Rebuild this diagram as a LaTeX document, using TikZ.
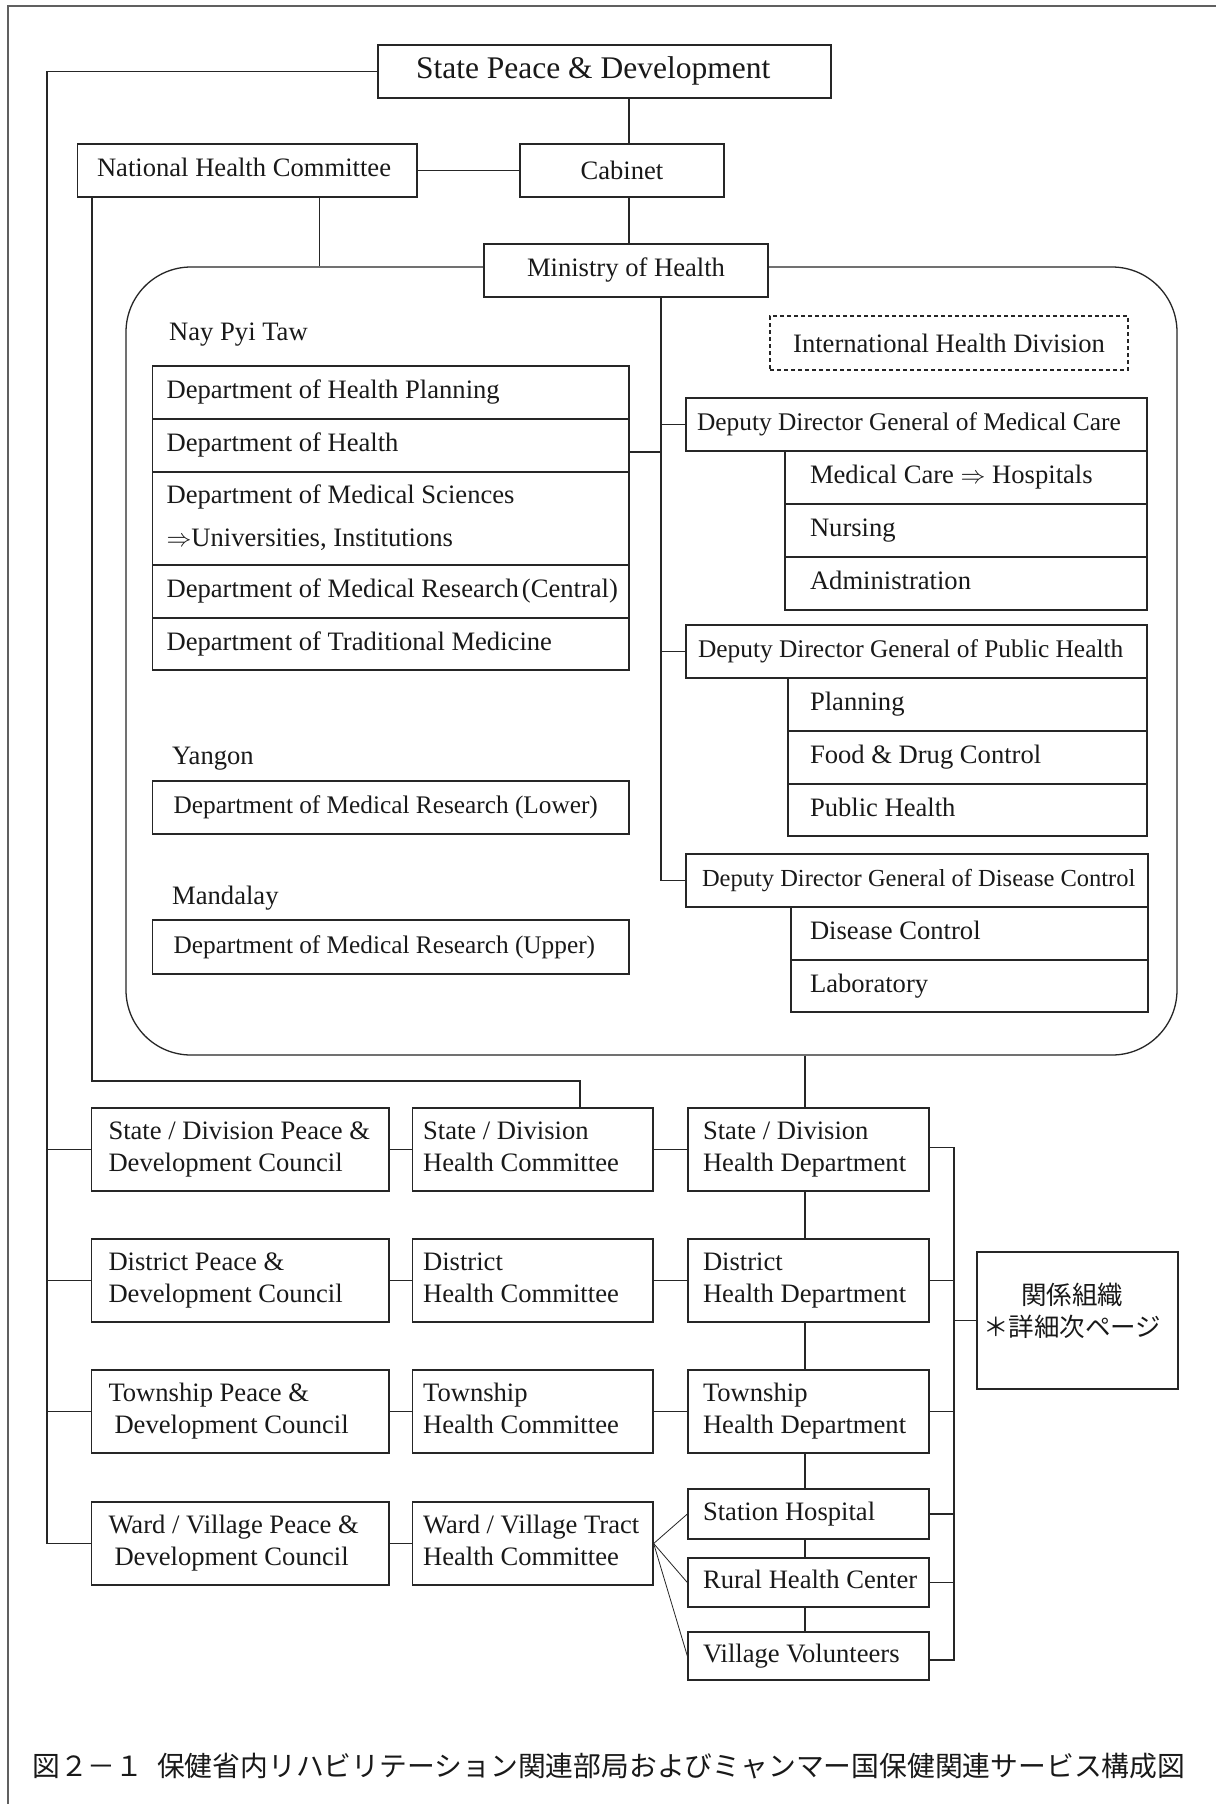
\documentclass[tikz,border=0pt]{standalone}
\usepackage{fontspec}
\setmainfont{Liberation Serif}
\newfontfamily\cjk{Noto Sans CJK JP}
\usetikzlibrary{calc}
\newcommand\lbx[3]{\makebox[#1pt][l]{\hspace*{#2pt}\begin{tabular}{@{}l@{}}#3\end{tabular}}}
\begin{document}
\begin{tikzpicture}[x=1pt,y=-1pt,
  every node/.style={font=\fontsize{26.6}{32}\selectfont, text=black!90},
  bx/.style 2 args={draw=black!85, line width=1.3pt, fill=white, inner sep=0pt, minimum width=#1pt, minimum height=#2pt},
  ln/.style={draw=black!85, line width=1.1pt},
  lbl/.style={anchor=west, inner sep=0pt}]
\useasboundingbox (0,0) rectangle (1216,1804);
\fill[white] (0,0) rectangle (1216,1804);
% page frame
\draw[gray!75!black, line width=2pt] (8,1804) -- (8,5.7) -- (1216,5.7);

% ministry frame
\node[draw=black!85, line width=1.3pt, rounded corners=65pt, minimum width=1051pt, minimum height=788pt, inner sep=0pt] (frm) at (651.5,661) {};

% top
\node[bx={453}{53}, font=\fontsize{31.5}{36}\selectfont] (sp) at (604.5,71.5) {\lbx{453}{38}{State Peace \& Development}};
\node[bx={339.5}{53}] (nhc) at (247.25,170.5) {\lbx{339.5}{19.5}{National Health Committee}};
\node[bx={204}{53}] (cab) at (622,170.5) {Cabinet};
\node[bx={284}{53}] (moh) at (626,270.5) {Ministry of Health};

% Nay Pyi Taw
\node[lbl] (lnpt) at (169,335) {Nay Pyi Taw};
\node[bx={476.4}{53}] (dhp) at (390.8,392.5) {\lbx{476.4}{14}{Department of Health Planning}};
\node[bx={476.4}{53}] (dh) at (390.8,445.5) {\lbx{476.4}{14}{Department of Health}};
\node[bx={476.4}{93}] (dms) at (390.8,518.5) {\lbx{476.4}{14}{Department of Medical Sciences\\[11pt]$\Rightarrow$Universities, Institutions}};
\node[bx={476.4}{53}] (dmr) at (390.8,591.5) {\lbx{476.4}{14}{Department of Medical Research\kern3pt(Central)}};
\node[bx={476.4}{52}] (dtm) at (390.8,644) {\lbx{476.4}{14}{Department of Traditional Medicine}};

\node[lbl] (lygn) at (172,759) {Yangon};
\node[bx={476.4}{53}, font=\fontsize{25.3}{32}\selectfont] (ygn) at (390.8,807.5) {\lbx{476.4}{21}{Department of Medical Research (Lower)}};
\node[lbl] (lmdl) at (172,898) {Mandalay};
\node[bx={476.4}{54}, font=\fontsize{25.3}{32}\selectfont] (mdl) at (390.8,947) {\lbx{476.4}{21}{Department of Medical Research (Upper)}};

% right side
\node[bx={358}{54}, dashed, dash pattern=on 4pt off 3pt] (ihd) at (949,343) {International Health Division};

\node[bx={461}{53}, font=\fontsize{25.4}{32}\selectfont] (ddg1) at (916.5,424.5) {\lbx{461}{11}{Deputy Director General of Medical Care}};
\node[bx={362}{53}] (mc1) at (966,477.5) {\lbx{362}{25}{Medical Care $\Rightarrow$ Hospitals}};
\node[bx={362}{53}] (mc2) at (966,530.5) {\lbx{362}{25}{Nursing}};
\node[bx={362}{53}] (mc3) at (966,583.5) {\lbx{362}{25}{Administration}};

\node[bx={461}{53}, font=\fontsize{25.4}{32}\selectfont] (ddg2) at (916.5,651.5) {\lbx{461}{12}{Deputy Director General of Public Health}};
\node[bx={359}{53}] (ph1) at (967.5,704.5) {\lbx{359}{22}{Planning}};
\node[bx={359}{53}] (ph2) at (967.5,757.5) {\lbx{359}{22}{Food \& Drug Control}};
\node[bx={359}{52}] (ph3) at (967.5,810) {\lbx{359}{22}{Public Health}};

\node[bx={462}{53}, font=\fontsize{24.5}{32}\selectfont] (ddg3) at (917,880.5) {\lbx{462}{16}{Deputy Director General of Disease Control}};
\node[bx={357}{53}] (dc1) at (969.5,933.5) {\lbx{357}{19}{Disease Control}};
\node[bx={357}{52}] (dc2) at (969.5,986) {\lbx{357}{19}{Laboratory}};

% bottom rows
\node[bx={297.5}{83}] (p1) at (240.25,1149.5) {\lbx{297.5}{17}{State / Division Peace \&\\Development Council}};
\node[bx={240.4}{83}] (h1) at (532.8,1149.5) {\lbx{240.4}{10.5}{State / Division\\Health Committee}};
\node[bx={241}{83}] (d1) at (808.5,1149.5) {\lbx{241}{15}{State / Division\\Health Department}};

\node[bx={297.5}{83}] (p2) at (240.25,1280.5) {\lbx{297.5}{17}{District Peace \&\\Development Council}};
\node[bx={240.4}{83}] (h2) at (532.8,1280.5) {\lbx{240.4}{10.5}{District\\Health Committee}};
\node[bx={241}{83}] (d2) at (808.5,1280.5) {\lbx{241}{15}{District\\Health Department}};

\node[bx={297.5}{83}] (p3) at (240.25,1411.5) {\lbx{297.5}{17}{Township Peace \&\\\hspace*{6pt}Development Council}};
\node[bx={240.4}{83}] (h3) at (532.8,1411.5) {\lbx{240.4}{10.5}{Township\\Health Committee}};
\node[bx={241}{83}] (d3) at (808.5,1411.5) {\lbx{241}{15}{Township\\Health Department}};

\node[bx={297.5}{83}] (p4) at (240.25,1543.5) {\lbx{297.5}{17}{Ward / Village Peace \&\\\hspace*{6pt}Development Council}};
\node[bx={240.4}{83}] (h4) at (532.8,1543.5) {\lbx{240.4}{10.5}{Ward / Village Tract\\Health Committee}};
\node[bx={241}{50}] (sh) at (808.5,1514) {\lbx{241}{15}{Station Hospital}};
\node[bx={241}{49}] (rhc) at (808.5,1582.5) {\lbx{241}{15}{Rural Health Center}};
\node[bx={241}{48}] (vv) at (808.5,1656) {\lbx{241}{15}{Village Volunteers}};

\node[bx={201}{137}] (rel) at (1077.5,1320.5) {};
\node[align=center, inner sep=0pt, font=\cjk\fontsize{25.5}{32}\selectfont] (reltx) at (1072,1311) {関係組織\\＊詳細次ページ};

% caption
\node[lbl, font=\cjk\fontsize{27.8}{32}\selectfont] (cap) at (32,1766) {図２－１\hspace{13.8pt}保健省内リハビリテーション関連部局およびミャンマー国保健関連サービス構成図};

% coordinates for connector columns
\coordinate (lx) at (47,0);
\coordinate (cx) at (629,0);
\coordinate (j1) at (92,1081);
\coordinate (j2) at (580,1081);
\coordinate (nx) at (319.5,0);
\coordinate (sx) at (661,0);
\coordinate (vx) at (805,0);
\coordinate (brk) at (954,0);

% connectors: top
\draw[ln] (sp.west) -- (sp.west -| lx) -- (lx |- p4.west) -- (p4.west);
\draw[ln] (lx |- p1.west) -- (p1.west);
\draw[ln] (lx |- p2.west) -- (p2.west);
\draw[ln] (lx |- p3.west) -- (p3.west);
\draw[ln] (sp.south -| cx) -- (cab.north -| cx);
\draw[ln] (cab.south -| cx) -- (moh.north -| cx);
\draw[ln] (nhc.east) -- (cab.west);
\draw[ln] (nhc.south -| nx) -- (frm.north -| nx);
\draw[ln] (nhc.south -| j1) -- (j1) -- (j2) -- (j2 |- h1.north);

% ministry inner
\draw[ln] (moh.south -| sx) -- (sx |- ddg3.west) -- (ddg3.west);
\draw[ln] ([yshift=-6.5pt]dh.east) -- ([yshift=-6.5pt]dh.east -| sx);
\draw[ln] (ddg1.west) -- (ddg1.west -| sx);
\draw[ln] (ddg2.west) -- (ddg2.west -| sx);

% bottom
\draw[ln] (frm.south -| vx) -- (d1.north -| vx);
\draw[ln] (d1.south -| vx) -- (d2.north -| vx);
\draw[ln] (d2.south -| vx) -- (d3.north -| vx);
\draw[ln] (d3.south -| vx) -- (sh.north -| vx);
\draw[ln] (sh.south -| vx) -- (rhc.north -| vx);
\draw[ln] (rhc.south -| vx) -- (vv.north -| vx);

\draw[ln] (p1.east) -- (h1.west);
\draw[ln] (h1.east) -- (d1.west);
\draw[ln] (p2.east) -- (h2.west);
\draw[ln] (h2.east) -- (d2.west);
\draw[ln] (p3.east) -- (h3.west);
\draw[ln] (h3.east) -- (d3.west);
\draw[ln] (p4.east) -- (h4.west);
\draw[ln, line width=0.8pt] (h4.east) -- (sh.west);
\draw[ln, line width=0.8pt] (h4.east) -- (rhc.west);
\draw[ln, line width=0.8pt] (h4.east) -- (vv.west);

\draw[ln] ([yshift=2pt]d1.east) -- ([yshift=2pt]d1.east -| brk) -- ([yshift=-4pt]brk |- vv.east) -- ([yshift=-4pt]vv.east);
\draw[ln] (d2.east) -- (d2.east -| brk);
\draw[ln] (d3.east) -- (d3.east -| brk);
\draw[ln] (sh.east) -- (sh.east -| brk);
\draw[ln] (rhc.east) -- (rhc.east -| brk);
\draw[ln] (rel.west) -- (rel.west -| brk);
\end{tikzpicture}
\end{document}
